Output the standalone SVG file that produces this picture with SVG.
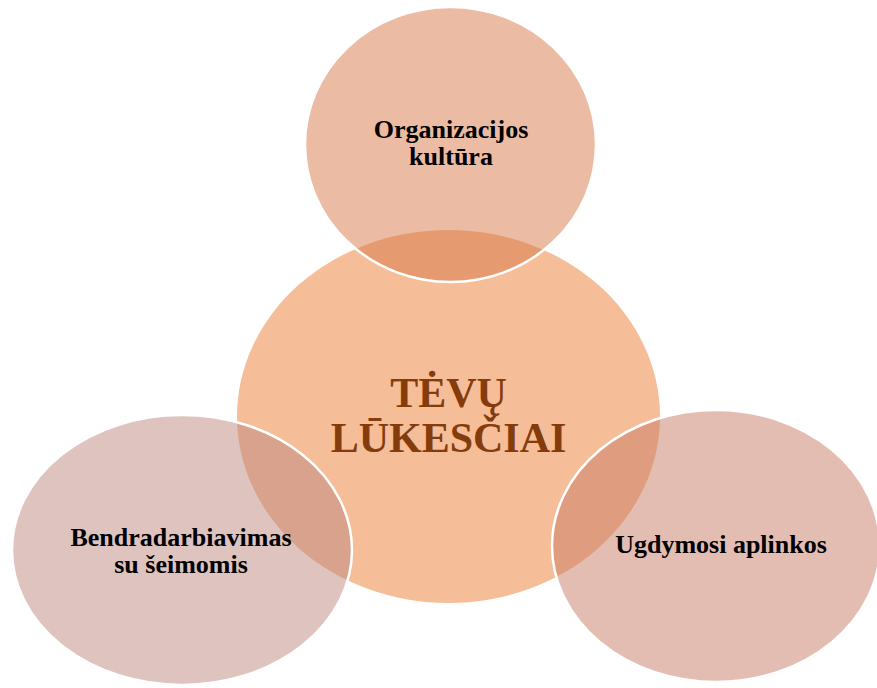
<svg xmlns="http://www.w3.org/2000/svg" width="877" height="688" viewBox="0 0 877 688">
<style>
.lbl{font-family:"Liberation Serif","Times New Roman",serif;font-weight:bold;font-size:26px;fill:#000;text-anchor:middle}
.main{font-family:"Liberation Serif","Times New Roman",serif;font-weight:bold;font-size:42px;fill:#843C0C;text-anchor:middle}
.outer{stroke:#fff;stroke-width:2.5;fill-opacity:0.5}
</style>
<rect width="877" height="688" fill="#fff"/>
<g id="center">
<ellipse cx="448.5" cy="416.5" rx="211.5" ry="186.5" fill="#F5BD98"/>
</g>
<g id="connectors"></g>
<g id="top">
<ellipse class="outer" cx="450.5" cy="144.5" rx="145.5" ry="137.5" fill="#D77747"/>
<text class="lbl" x="451" y="138">Organizacijos</text>
<text class="lbl" x="451" y="165">kultūra</text>
</g>
<g id="left">
<ellipse class="outer" cx="182" cy="550" rx="170" ry="135" fill="#BD877F"/>
<text class="lbl" x="181" y="546">Bendradarbiavimas</text>
<text class="lbl" x="181" y="573">su šeimomis</text>
</g>
<g id="right">
<ellipse class="outer" cx="716" cy="546" rx="164" ry="136" fill="#C97B65"/>
<text class="lbl" x="721" y="553">Ugdymosi aplinkos</text>
</g>
<g id="title">
<text class="main" x="448.5" y="407">TĖVŲ</text>
<text class="main" x="448.5" y="452">LŪKESČIAI</text>
</g>
</svg>
